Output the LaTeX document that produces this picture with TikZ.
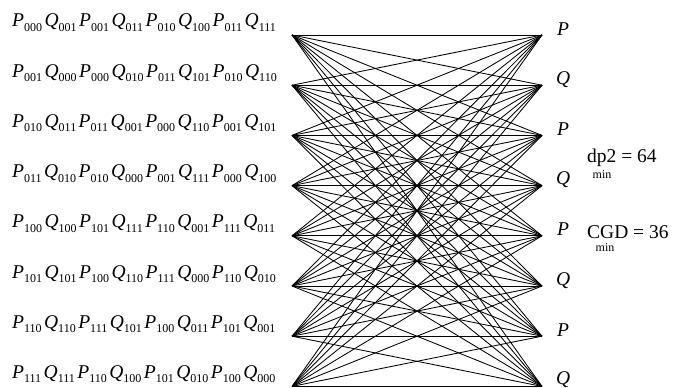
\documentclass[tikz,border=0pt]{standalone}
\usepackage{fontspec}
\setmainfont{Liberation Serif}
\newcommand{\bigsz}{\fontsize{19.5}{20}\selectfont}
\newcommand{\smallsz}{\fontsize{12}{12}\selectfont}
\newcommand{\ps}[2]{\textit{#1}\raisebox{-4.5pt}{\smallsz #2}\kern2.5pt}
\newcommand{\rowtext}[8]{\ps{P}{#1}\ps{Q}{#2}\ps{P}{#3}\ps{Q}{#4}\ps{P}{#5}\ps{Q}{#6}\ps{P}{#7}\ps{Q}{#8}}
\begin{document}
\begin{tikzpicture}[x=1pt,y=-1pt,
  lbl/.style={anchor=base west,inner sep=0pt,font=\bigsz},
  sublbl/.style={anchor=base,inner sep=0pt,font=\smallsz},
  edge/.style={line width=0.85pt,black}]
\useasboundingbox (0,0) rectangle (675,388);
% point positions
\foreach \i/\y in {1/35,2/85.2,3/135.4,4/185.6,5/235.8,6/286,7/336.2,8/386.4}{
  \coordinate (L\i) at (292,\y);
  \coordinate (R\i) at (542,\y);
}
\foreach \i in {1,...,8}{
  \foreach \j in {1,...,8}{
    \draw[edge] (L\i) -- (R\j);
  }
}
% left texts
\node[lbl] (t1) at (12,27) {\rowtext{000}{001}{001}{011}{010}{100}{011}{111}};
\node[lbl] (t2) at (12,77.2) {\rowtext{001}{000}{000}{010}{011}{101}{010}{110}};
\node[lbl] (t3) at (12,127.4) {\rowtext{010}{011}{011}{001}{000}{110}{001}{101}};
\node[lbl] (t4) at (12,177.6) {\rowtext{011}{010}{010}{000}{001}{111}{000}{100}};
\node[lbl] (t5) at (12,227.8) {\rowtext{100}{100}{101}{111}{110}{001}{111}{011}};
\node[lbl] (t6) at (12,278) {\rowtext{101}{101}{100}{110}{111}{000}{110}{010}};
\node[lbl] (t7) at (12,328.2) {\rowtext{110}{110}{111}{101}{100}{011}{101}{001}};
\node[lbl] (t8) at (12,378.4) {\rowtext{111}{111}{110}{100}{101}{010}{100}{000}};
% right labels
\node[lbl] (r1) at (557,35) {\textit{P}};
\node[lbl] (r2) at (556,84) {\textit{Q}};
\node[lbl] (r3) at (557,135.4) {\textit{P}};
\node[lbl] (r4) at (556,184.6) {\textit{Q}};
\node[lbl] (r5) at (557,235.8) {\textit{P}};
\node[lbl] (r6) at (556,285) {\textit{Q}};
\node[lbl] (r7) at (557,336.2) {\textit{P}};
\node[lbl] (r8) at (556,384) {\textit{Q}};
% measures
\node[lbl] (dp) at (587,162) {dp2 = 64};
\node[sublbl] (dpmin) at (602,178) {min};
\node[lbl] (cgd) at (587,238) {CGD = 36};
\node[sublbl] (cgdmin) at (605,251) {min};
\end{tikzpicture}
\end{document}
